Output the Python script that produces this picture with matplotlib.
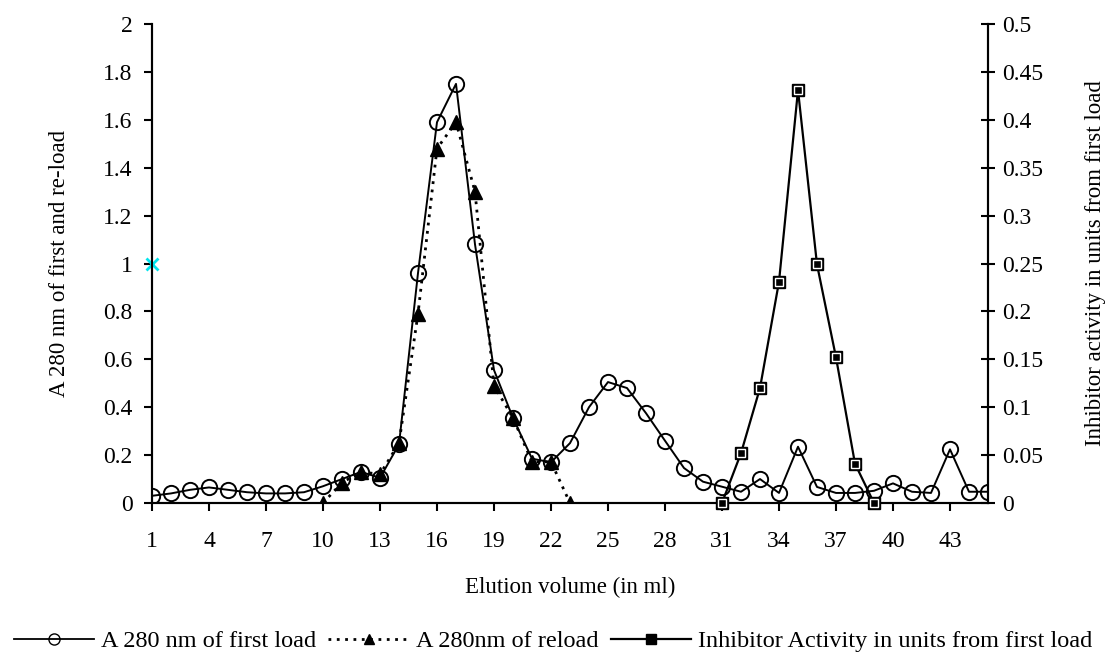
import numpy as np
import matplotlib.pyplot as plt
from matplotlib.lines import Line2D

plt.rcParams['font.family'] = ['Liberation Serif', 'DejaVu Serif']

# elution volume (ml) for each fraction
volume = list(range(1, 46))

# A280 of first load (left axis)
first_load = [0.03, 0.04, 0.055, 0.065, 0.055, 0.045, 0.04, 0.04, 0.045, 0.07,
              0.10, 0.13, 0.105, 0.245, 0.96, 1.59, 1.75, 1.08, 0.555, 0.355,
              0.185, 0.17, 0.25, 0.40, 0.505, 0.48, 0.375, 0.26, 0.146, 0.089,
              0.068, 0.047, 0.10, 0.042, 0.235, 0.067, 0.042, 0.042, 0.051, 0.082,
              0.047, 0.042, 0.224, 0.047, 0.047]

# A280 of re-load (left axis)
reload_vol = list(range(10, 24))
reload_abs = [0.0, 0.085, 0.13, 0.12, 0.25, 0.79, 1.48, 1.59, 1.30, 0.49,
              0.355, 0.172, 0.172, 0.0]

# inhibitor activity, units from first load (right axis)
act_vol = list(range(31, 40))
activity = [0.0, 0.052, 0.120, 0.231, 0.431, 0.249, 0.152, 0.041, 0.0]

# stray point sitting on the left axis
stray_x = [1]
stray_y = [1.0]

fig = plt.figure(figsize=(11.06, 6.55), dpi=100)
ax = fig.add_axes([152/1106, 1 - 503/655, (988 - 152)/1106, (503 - 24)/655])
ax2 = ax.twinx()

ax.plot(volume, first_load, color='black', lw=1.4, marker='o', ms=11,
        mfc='none', mec='black', mew=1.4, zorder=3)
ax.plot(reload_vol, reload_abs, color='black', lw=2, ls=(0, (1, 2)),
        marker='^', ms=9.5, mfc='black', mec='black', zorder=4)
ax.plot(stray_x, stray_y, ls='none', marker='x', ms=9, mew=2,
        color='#00e5ee', zorder=5, clip_on=False)

ax2.plot(act_vol, activity, color='black', lw=1.6, marker='s', ms=9,
         mfc='black', mec='black', zorder=3, clip_on=False)
ax2.plot(act_vol, activity, ls='none', marker='s', ms=5.5, mfc='black',
         mec='white', mew=1.0, zorder=4, clip_on=False)

ax.set_xlim(1, 45)
ax.set_ylim(0, 2)
ax2.set_ylim(0, 0.5)

ax.set_xticks(range(1, 44, 3))
ax.set_yticks(np.arange(0, 2.01, 0.2))
ax.set_yticklabels(['0', '0.2', '0.4', '0.6', '0.8', '1', '1.2', '1.4',
                    '1.6', '1.8', '2'])
ax2.set_yticks(np.arange(0, 0.501, 0.05))
ax2.set_yticklabels(['0', '0.05', '0.1', '0.15', '0.2', '0.25', '0.3',
                     '0.35', '0.4', '0.45', '0.5'])

for a in (ax, ax2):
    a.spines['top'].set_visible(False)
    for s in a.spines.values():
        s.set_linewidth(1.5)
ax.tick_params(axis='both', labelsize=17, width=1.5, length=6, direction='out')
ax.tick_params(axis='y', pad=8)
ax.tick_params(axis='x', pad=14)
ax2.tick_params(axis='y', labelsize=17, width=1.5, length=10,
                direction='inout', pad=5)

ax.set_xlabel('Elution volume (in ml)', fontsize=16.5, labelpad=18)
ax.set_ylabel('A 280 nm of first and re-load', fontsize=16.5, labelpad=24)
ax2.set_ylabel('Inhibitor activity in units from first load', fontsize=16.5,
               labelpad=30)

handles = [
    Line2D([], [], color='black', lw=1.3, marker='o', ms=8, mfc='none'),
    Line2D([], [], color='black', lw=2, ls=(0, (1, 2)), marker='^', ms=7,
           mfc='black'),
    Line2D([], [], color='black', lw=1.6, marker='s', ms=7, mfc='black',
           mec='black'),
]
labels = ['A 280 nm of first load', 'A 280nm of reload',
          'Inhibitor Activity in units from first load']
fig.legend(handles, labels, loc='center', bbox_to_anchor=(0.5, 1 - 641/655),
           ncol=3, frameon=False, fontsize=17.5, handlelength=3.3,
           handletextpad=0.3, columnspacing=0.5, borderpad=0.1)

fig.savefig('out.png', dpi=100)
